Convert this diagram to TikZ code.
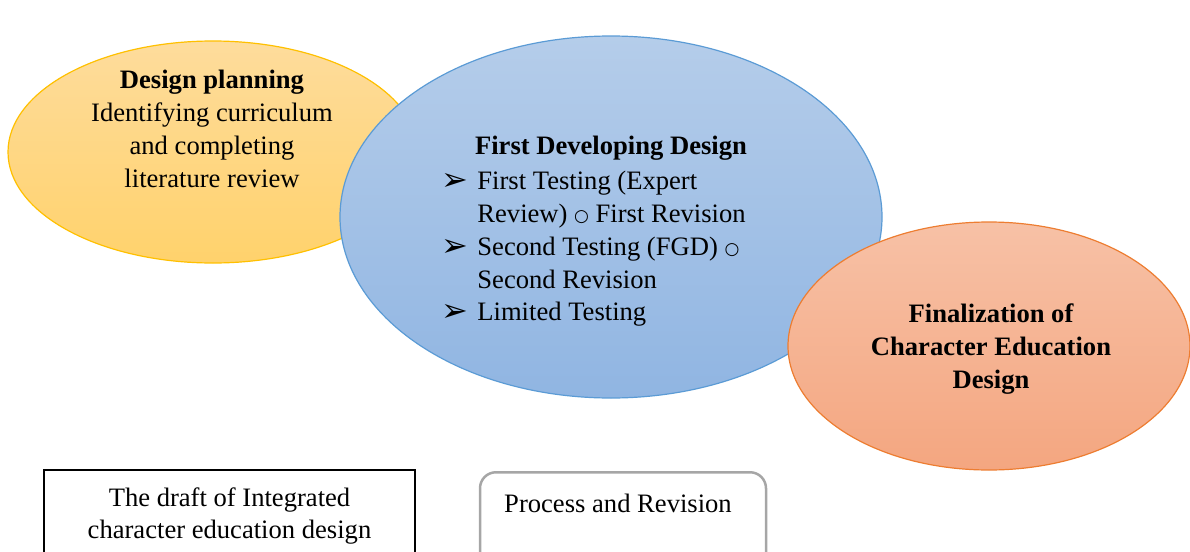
\documentclass[tikz,border=0pt]{standalone}
\usepackage{fontspec}
\setmainfont{Liberation Serif}
\newfontfamily\symfont{DejaVu Sans}
\usetikzlibrary{positioning, shapes.geometric}
\definecolor{plantop}{HTML}{FEDC9C}
\definecolor{planbot}{HTML}{FFD26C}
\definecolor{planline}{HTML}{FFC000}
\definecolor{devtop}{HTML}{B5CDEA}
\definecolor{devbot}{HTML}{90B5E2}
\definecolor{devline}{HTML}{5B9BD5}
\definecolor{fintop}{HTML}{F7C1A6}
\definecolor{finbot}{HTML}{F4A680}
\definecolor{finline}{HTML}{ED7D31}
\definecolor{boxgray}{HTML}{A6A6A6}
\newcommand{\txtsize}{\fontsize{13.3}{16.4}\selectfont}
\newcommand{\bul}{\makebox[18pt][l]{\fontsize{16}{16}\symfont\raisebox{-0.5pt}{➢}}}
\newcommand{\ring}{{\fontsize{8.5}{8.5}\symfont\raisebox{0.5pt}{○}}}
\tikzset{
	phase/.style={ellipse, inner sep=0pt, line width=0.6pt},
	keybox/.style={draw, line width=1pt, inner sep=0pt},
	txt/.style={inner sep=0pt, align=center, font=\txtsize},
}

\begin{document}
\begin{tikzpicture}[x=0.5pt, y=-0.5pt]
	\clip (0,0) rectangle (1190,552);

	\node[phase, draw=planline, top color=plantop, bottom color=planbot,
		minimum width=205pt, minimum height=111pt] (plan) at (213,152) {};
	\node[phase, draw=devline, top color=devtop, bottom color=devbot,
		minimum width=271pt, minimum height=181pt] (develop) at (611,217) {};
	\node[phase, draw=finline, top color=fintop, bottom color=finbot,
		minimum width=201pt, minimum height=124pt] (final) at (989,346) {};

	\node[txt] (plantxt) at (212,129) {\textbf{Design planning}\\Identifying curriculum\\and completing\\literature review};
	\node[txt, anchor=base] (devtitle) at (611,154) {\textbf{First Developing Design}};
	\node[txt, align=left, anchor=west] (devlist) at (441,249)
		{\bul First Testing (Expert\\\hspace{18pt}Review) \ring{} First Revision\\\bul Second Testing (FGD) \ring\\\hspace{18pt}Second Revision\\\bul Limited Testing};
	\node[txt, font=\txtsize\bfseries] (fintxt) at (991,349) {Finalization of\\Character Education\\Design};

	\node[keybox, txt, draw=black, minimum width=185.5pt, minimum height=46pt] (draft) at (229.5,516)
		{The draft of Integrated\\character education design};
	\node[keybox, draw=boxgray, line width=1.25pt, rounded corners=8pt,
		minimum width=143pt, minimum height=50pt, anchor=north] (proc) at (623,471) {};
	\node[txt, below=11.5pt of proc.north, xshift=-2.5pt] (proctxt) {Process and Revision};
\end{tikzpicture}
\end{document}
